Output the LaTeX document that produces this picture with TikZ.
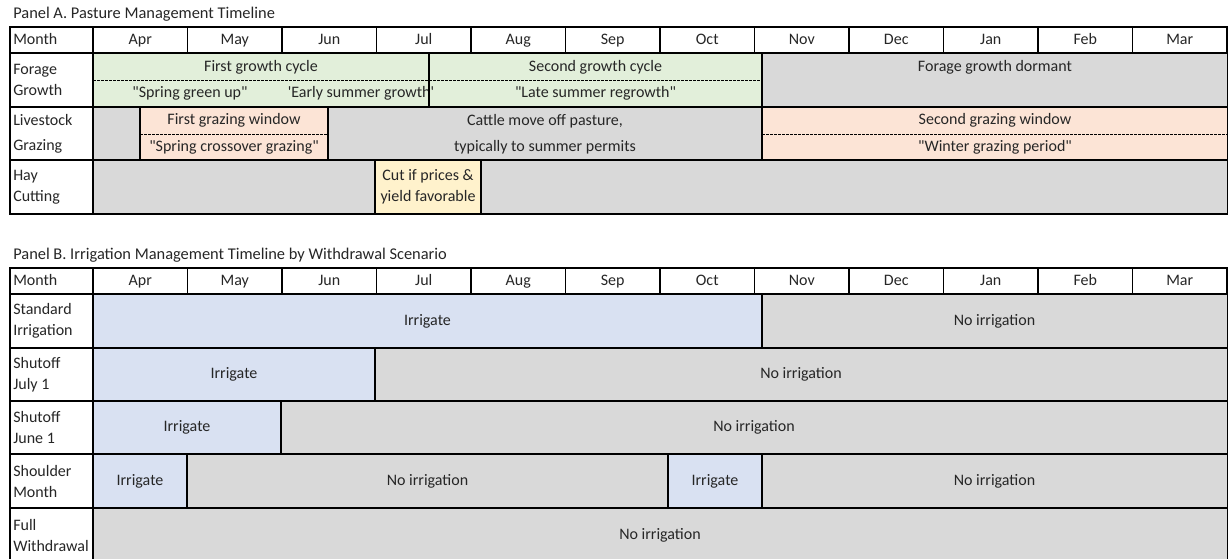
\documentclass[tikz,border=0pt]{standalone}
\usepackage{fontspec}
\setmainfont{Carlito}
\definecolor{grow}{HTML}{E2EFDA}
\definecolor{graze}{HTML}{FCE4D6}
\definecolor{hay}{HTML}{FFF2CC}
\definecolor{irrig}{HTML}{D9E1F2}
\definecolor{idle}{HTML}{D9D9D9}
\definecolor{ink}{HTML}{262626}
% one table cell: x1, x2, y1, y2, fill
\newcommand{\cellbox}[5]{\draw[grid,fill=#5] (#1,#3) rectangle (#2,#4);}
\newcommand{\qq}[1]{\textquotedbl#1\textquotedbl}

\begin{document}
\begin{tikzpicture}[x=0.75pt,y=-0.75pt,
  grid/.style={line width=1.3pt},
  cut/.style={line width=0.6pt,dash pattern=on 2pt off 1pt},
  two/.style={text=ink,font=\fontsize{12}{15.75}\selectfont,align=center,inner sep=0pt},
  txt/.style={two,text height=8.5pt,text depth=2.5pt},
  lab/.style={two,anchor=west,align=left},
  ttl/.style={text=ink,font=\fontsize{12.3}{14}\selectfont,anchor=base west,inner sep=0pt}]
  \useasboundingbox (0,0) rectangle (1228,558);

  % Panel A
  \node[ttl] (titleA) at (13,18) {Panel A. Pasture Management Timeline};
  \cellbox{10}{93}{27}{53}{white}
  \node[txt,anchor=west] (monthA) at (13,40.5) {Month};
  \foreach \m [count=\i from 0] in {Apr,May,Jun,Jul,Aug,Sep,Oct,Nov,Dec,Jan,Feb,Mar}{
    \cellbox{93+94.5*\i}{187.5+94.5*\i}{27}{53}{white}
    \node[txt] (hdrA-\m) at ({140.25+94.5*\i},40.5) {\m};
  }
  \cellbox{10}{93}{53}{107}{white}
  \cellbox{10}{93}{107}{160}{white}
  \cellbox{10}{93}{160}{214}{white}
  % forage growth
  \cellbox{93}{429}{53}{107}{grow}
  \cellbox{429}{762}{53}{107}{grow}
  \cellbox{762}{1227.5}{53}{107}{idle}
  % livestock grazing
  \cellbox{93}{140}{107}{160}{idle}
  \cellbox{140}{328}{107}{160}{graze}
  \cellbox{328}{762}{107}{160}{idle}
  \cellbox{762}{1227.5}{107}{160}{graze}
  % hay cutting
  \cellbox{93}{375}{160}{214}{idle}
  \cellbox{375}{481}{160}{214}{hay}
  \cellbox{481}{1227.5}{160}{214}{idle}
  \draw[cut] (93,80) -- (762,80);
  \draw[cut] (140,134) -- (328,134);
  \draw[cut] (762,134) -- (1227.5,134);

  \node[lab] (forage) at (13,80) {Forage\\Growth};
  \node[lab] (livestock) at (13,134) {Livestock\\[3pt]Grazing};
  \node[lab] (haycut) at (13,187) {Hay\\Cutting};
  \node[txt] (first) at (261,67) {First growth cycle};
  \node[txt] (second) at (595.5,67) {Second growth cycle};
  \node[txt] (spring) at (190,93) {\qq{Spring green up}};
  \node[txt] (early) at (361,93) {\textquotesingle Early summer growth\textquotesingle};
  \node[txt] (late) at (595.5,93) {\qq{Late summer regrowth}};
  \node[txt] (dormant) at (995,67) {Forage growth dormant};
  \node[txt] (graze1) at (234,120.5) {First grazing window};
  \node[txt] (cross) at (234,147) {\qq{Spring crossover grazing}};
  \node[two] (cattle) at (545,134) {Cattle move off pasture,\\[4pt]typically to summer permits};
  \node[txt] (graze2) at (995,120.5) {Second grazing window};
  \node[txt] (winter) at (995,147) {\qq{Winter grazing period}};
  \node[two] (cutif) at (428,187) {Cut if prices \&\\yield favorable};
  \draw[grid] (429,53) -- (429,107);

  % Panel B
  \node[ttl] (titleB) at (13,259) {Panel B. Irrigation Management Timeline by Withdrawal Scenario};
  \cellbox{10}{93}{268}{294}{white}
  \node[txt,anchor=west] (monthB) at (13,281.5) {Month};
  \foreach \m [count=\i from 0] in {Apr,May,Jun,Jul,Aug,Sep,Oct,Nov,Dec,Jan,Feb,Mar}{
    \cellbox{93+94.5*\i}{187.5+94.5*\i}{268}{294}{white}
    \node[txt] (hdrB-\m) at ({140.25+94.5*\i},281.5) {\m};
  }
  \foreach \ya/\yb in {294/348,348/401,401/454,454/508,508/562}{
    \cellbox{10}{93}{\ya}{\yb}{white}
  }
  \cellbox{93}{762}{294}{348}{irrig}
  \cellbox{762}{1227.5}{294}{348}{idle}
  \cellbox{93}{375}{348}{401}{irrig}
  \cellbox{375}{1227.5}{348}{401}{idle}
  \cellbox{93}{281}{401}{454}{irrig}
  \cellbox{281}{1227.5}{401}{454}{idle}
  \cellbox{93}{187}{454}{508}{irrig}
  \cellbox{187}{668}{454}{508}{idle}
  \cellbox{668}{762}{454}{508}{irrig}
  \cellbox{762}{1227.5}{454}{508}{idle}
  \cellbox{93}{1227.5}{508}{562}{idle}

  \node[lab] (standard) at (13,321) {Standard\\Irrigation};
  \node[lab] (july) at (13,374.5) {Shutoff\\July 1};
  \node[lab] (june) at (13,427.5) {Shutoff\\June 1};
  \node[lab] (shoulder) at (13,481) {Shoulder\\Month};
  \node[lab] (full) at (13,535) {Full\\Withdrawal};
  \node[txt] (std-on) at (427.5,321) {Irrigate};
  \node[txt] (std-off) at (994.5,321) {No irrigation};
  \node[txt] (jul-on) at (234,374.5) {Irrigate};
  \node[txt] (jul-off) at (801,374.5) {No irrigation};
  \node[txt] (jun-on) at (187,427.5) {Irrigate};
  \node[txt] (jun-off) at (754,427.5) {No irrigation};
  \node[txt] (sh-spring) at (140,481) {Irrigate};
  \node[txt] (sh-off1) at (427.5,481) {No irrigation};
  \node[txt] (sh-fall) at (715,481) {Irrigate};
  \node[txt] (sh-off2) at (994.5,481) {No irrigation};
  \node[txt] (full-off) at (660,535) {No irrigation};
\end{tikzpicture}
\end{document}
